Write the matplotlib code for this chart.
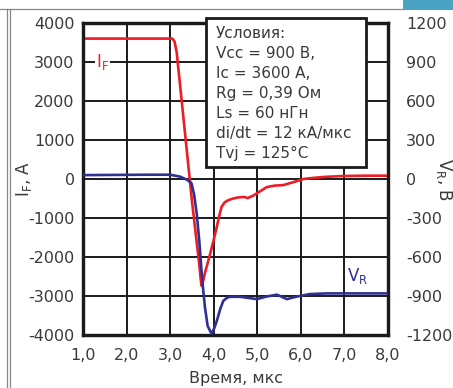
import matplotlib
matplotlib.use("Agg")
import matplotlib.pyplot as plt
from matplotlib.patches import Rectangle
from matplotlib.lines import Line2D

plt.rcParams['font.family'] = ['DejaVu Sans']
plt.rcParams['axes.unicode_minus'] = False

# ---- data ----
t_if = [1.0, 3.05, 3.1, 3.15, 3.25, 3.35, 3.42, 3.5, 3.6, 3.67, 3.70, 3.72, 3.75,
        3.8, 3.9, 4.0, 4.07, 4.13, 4.18, 4.25, 4.34, 4.45, 4.56, 4.7, 4.78, 4.9,
        5.0, 5.1, 5.22, 5.4, 5.6, 5.8, 6.06, 6.3, 6.52, 6.97, 7.5, 8.0]
i_f = [3600, 3600, 3530, 3250, 2170, 1080, 320, -560, -1530, -2200, -2550, -2735,
       -2650, -2400, -2000, -1560, -1230, -930, -715, -600, -540, -500, -473, -460,
       -490, -430, -361, -290, -206, -170, -155, -90, 0, 30, 52, 77, 85, 85]

t_vr = [1.0, 2.5, 3.0, 3.23, 3.4, 3.49, 3.55, 3.61, 3.67, 3.72, 3.76, 3.80, 3.86,
        3.95, 4.01, 4.07, 4.15, 4.22, 4.30, 4.37, 4.45, 4.6, 4.8, 4.99, 5.2, 5.45,
        5.68, 5.9, 6.21, 6.6, 7.13, 8.0]
v_r = [30, 33, 33, 18, -8, -33, -120, -266, -480, -705, -860, -989, -1130,
       -1191, -1150, -1092, -1000, -937, -915, -906, -906, -906, -915, -924, -905,
       -890, -924, -905, -885, -880, -880, -880]

x_ticks = [1, 2, 3, 4, 5, 6, 7, 8]
x_labels = ['1,0', '2,0', '3,0', '4,0', '5,0', '6,0', '7,0', '8,0']
yl_ticks = [-4000, -3000, -2000, -1000, 0, 1000, 2000, 3000, 4000]
yr_ticks = [-1200, -900, -600, -300, 0, 300, 600, 900, 1200]

conditions = ['Условия:', 'Vcc = 900 В,', 'Ic = 3600 А,', 'Rg = 0,39 Ом',
              'Ls = 60 нГн', 'di/dt = 12 кА/мкс', 'Tvj = 125°C']

RED = '#ee1c25'
BLUE = '#2e3192'
TXT = '#3a3a3a'

W, H = 453, 388
fig = plt.figure(figsize=(W / 100, H / 100), dpi=100)
ax = fig.add_axes([83 / W, 1 - 335 / H, (388 - 83) / W, (335 - 23) / H])
ax2 = ax.twinx()

ax.plot(t_if, i_f, color=RED, lw=1.9, zorder=3, solid_joinstyle='round')
ax2.plot(t_vr, v_r, color=BLUE, lw=1.9, zorder=3, solid_joinstyle='round')

ax.set_xlim(1, 8)
ax.set_ylim(-4000, 4000)
ax2.set_ylim(-1200, 1200)
ax.set_xticks(x_ticks)
ax.set_xticklabels(x_labels)
ax.set_yticks(yl_ticks)
ax2.set_yticks(yr_ticks)

ax.grid(True, color='#1a1a1a', lw=1.4)
for a in (ax, ax2):
    for s in a.spines.values():
        s.set_linewidth(2.3)
        s.set_color('#1a1a1a')
ax.tick_params(axis='both', length=0, labelsize=11.5, labelcolor=TXT)
ax.tick_params(axis='y', pad=6)
ax.tick_params(axis='x', pad=9)
ax2.tick_params(axis='y', length=0, labelsize=11.5, labelcolor=TXT, pad=13)

PW, PH = 388 - 83, 335 - 23
ax.set_xlabel('Время, мкс', fontsize=11.5, color=TXT, va='center')
ax.xaxis.set_label_coords((236 - 83) / PW, -(379 - 335) / PH)
ax.set_ylabel(r'I$_{\mathregular{F}}$, A', fontsize=12, color=TXT, va='center')
ax.yaxis.set_label_coords(-(83 - 24) / PW, 0.5)
ax2.set_ylabel(r'V$_{\mathregular{R}}$, В', fontsize=12, color=TXT, rotation=270,
               va='center')
ax2.yaxis.set_label_coords((444 - 83) / PW, 0.5)

ax.text(1.45, 3000, r'I$_{\mathregular{F}}$', color=RED, fontsize=12, ha='center',
        va='center', zorder=4,
        bbox=dict(facecolor='white', edgecolor='none', pad=1))
ax.text(7.3, -2500, r'V$_{\mathregular{R}}$', color=BLUE, fontsize=12, ha='center',
        va='center', zorder=4)

# conditions box
fig.add_artist(Rectangle((206 / W, 1 - 167 / H), (366 - 206) / W, (167 - 18) / H,
                         transform=fig.transFigure, facecolor='white',
                         edgecolor='#1a1a1a', lw=2.0, zorder=10))
for k, line in enumerate(conditions):
    fig.text(216 / W, 1 - (33.3 + 20 * k) / H, line, fontsize=11, color=TXT,
             ha='left', va='center', zorder=11)

# page frame remnants
fig.add_artist(Line2D([0, 403 / W], [1 - 9 / H, 1 - 9 / H], transform=fig.transFigure,
                      color='#888888', lw=0.9))
fig.add_artist(Line2D([7 / W, 7 / W], [0, 1 - 9 / H], transform=fig.transFigure,
                      color='#888888', lw=0.9))
fig.add_artist(Line2D([9.5 / W, 9.5 / W], [0, 1 - 9 / H], transform=fig.transFigure,
                      color='#888888', lw=0.9))
fig.add_artist(Rectangle((403 / W, 1 - 10 / H), 50 / W, 10 / H, transform=fig.transFigure,
                         facecolor='#4ba3c3', edgecolor='none'))

fig.savefig('out.png', dpi=100)
